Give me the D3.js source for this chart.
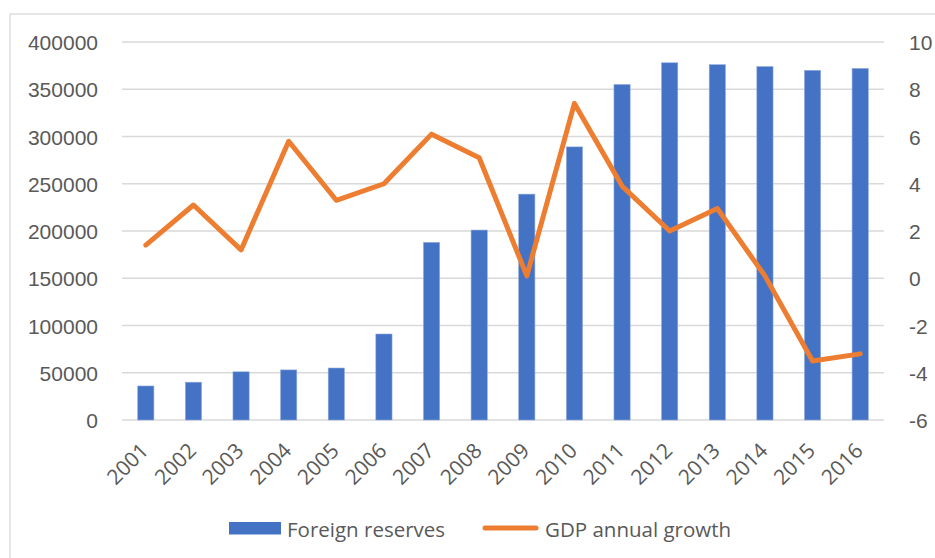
<!DOCTYPE html>
<html>
<head>
<meta charset="utf-8">
<script src="https://cdn.jsdelivr.net/npm/d3@7"></script>
<style>
  body { margin: 0; background: #fff; }
  svg { display: block; font-family: "Open Sans", "Liberation Sans", sans-serif; }
</style>
</head>
<body>
<div id="chart"></div>
<script>
const years = ["2001", "2002", "2003", "2004", "2005", "2006", "2007", "2008",
               "2009", "2010", "2011", "2012", "2013", "2014", "2015", "2016"];
const foreignReserves = [36000, 40000, 51000, 53000, 55000, 91000, 188000, 201000,
                         239000, 289000, 355000, 378000, 376000, 374000, 370000, 372000];
const gdpGrowth = [1.4, 3.1, 1.2, 5.8, 3.3, 4.0, 6.1, 5.1,
                   0.1, 7.4, 3.9, 2.0, 2.95, 0.1, -3.5, -3.2];
const leftTicks = [0, 50000, 100000, 150000, 200000, 250000, 300000, 350000, 400000];
const rightTicks = [-6, -4, -2, 0, 2, 4, 6, 8, 10];

const width = 935, height = 558;
const margin = {left: 122, right: 51, top: 42, bottom: 138};

const svg = d3.select("#chart").append("svg")
    .attr("width", width)
    .attr("height", height);

// chart border (runs off the right / bottom edges)
svg.append("rect")
    .attr("x", 10).attr("y", 14)
    .attr("width", 1000).attr("height", 600)
    .attr("fill", "none")
    .attr("stroke", "#d9d9d9")
    .attr("stroke-width", 1.3);

const x = d3.scaleBand()
    .domain(years)
    .range([margin.left, width - margin.right])
    .padding(0);

const yLeft = d3.scaleLinear()
    .domain([0, 400000])
    .range([height - margin.bottom, margin.top]);

const yRight = d3.scaleLinear()
    .domain([-6, 10])
    .range([height - margin.bottom, margin.top]);

// gridlines
svg.append("g")
    .selectAll("line")
    .data(leftTicks)
    .enter()
    .append("line")
    .attr("x1", margin.left)
    .attr("x2", width - margin.right)
    .attr("y1", d => yLeft(d))
    .attr("y2", d => yLeft(d))
    .attr("stroke", "#d9d9d9")
    .attr("stroke-width", 1.3);

// left axis
const leftAxis = svg.append("g")
    .attr("transform", `translate(${margin.left - 24},0)`)
    .call(d3.axisLeft(yLeft).tickValues(leftTicks).tickSize(0).tickPadding(0).tickFormat(d3.format("d")));
leftAxis.select(".domain").remove();
leftAxis.selectAll("text")
    .attr("fill", "#595959")
    .style("font-size", "21px")
    .attr("dy", "0.36em");

// right axis (plain hyphen for negatives, like the original)
const rightAxis = svg.append("g")
    .attr("transform", `translate(${width - margin.right + 25},0)`)
    .call(d3.axisRight(yRight).tickValues(rightTicks).tickSize(0).tickPadding(0).tickFormat(d => String(d)));
rightAxis.select(".domain").remove();
rightAxis.selectAll("text")
    .attr("fill", "#595959")
    .style("font-size", "21px")
    .attr("dy", "0.36em");

// bars
const barW = x.bandwidth() * 0.34;
svg.append("g")
    .selectAll("rect")
    .data(foreignReserves)
    .enter()
    .append("rect")
    .attr("x", (d, i) => x(years[i]) + x.bandwidth() / 2 - barW / 2)
    .attr("y", d => yLeft(d))
    .attr("width", barW)
    .attr("height", d => yLeft(0) - yLeft(d))
    .attr("fill", "#4472c4")
    .attr("stroke", "#8faadc")
    .attr("stroke-width", 0.6);

// GDP line
const line = d3.line()
    .x((d, i) => x(years[i]) + x.bandwidth() / 2)
    .y(d => yRight(d));

svg.append("path")
    .datum(gdpGrowth)
    .attr("fill", "none")
    .attr("stroke", "#ed7d31")
    .attr("stroke-width", 5)
    .attr("stroke-linejoin", "round")
    .attr("stroke-linecap", "round")
    .attr("d", line);

// x labels, rotated
svg.append("g")
    .selectAll("text")
    .data(years)
    .enter()
    .append("text")
    .attr("transform", d => `translate(${x(d) + x.bandwidth() / 2 + 4},452) rotate(-45)`)
    .attr("text-anchor", "end")
    .attr("fill", "#595959")
    .style("font-size", "21px")
    .text(d => d);

// legend
const legend = svg.append("g");
legend.append("rect")
    .attr("x", 229).attr("y", 522)
    .attr("width", 52).attr("height", 12.5)
    .attr("fill", "#4472c4");
legend.append("text")
    .attr("x", 287).attr("y", 537)
    .attr("fill", "#595959")
    .style("font-size", "20.5px")
    .text("Foreign reserves");
legend.append("line")
    .attr("x1", 485).attr("x2", 536)
    .attr("y1", 528).attr("y2", 528)
    .attr("stroke", "#ed7d31")
    .attr("stroke-width", 5)
    .attr("stroke-linecap", "round");
legend.append("text")
    .attr("x", 545).attr("y", 537)
    .attr("fill", "#595959")
    .style("font-size", "20.5px")
    .text("GDP annual growth");
</script>
</body>
</html>
